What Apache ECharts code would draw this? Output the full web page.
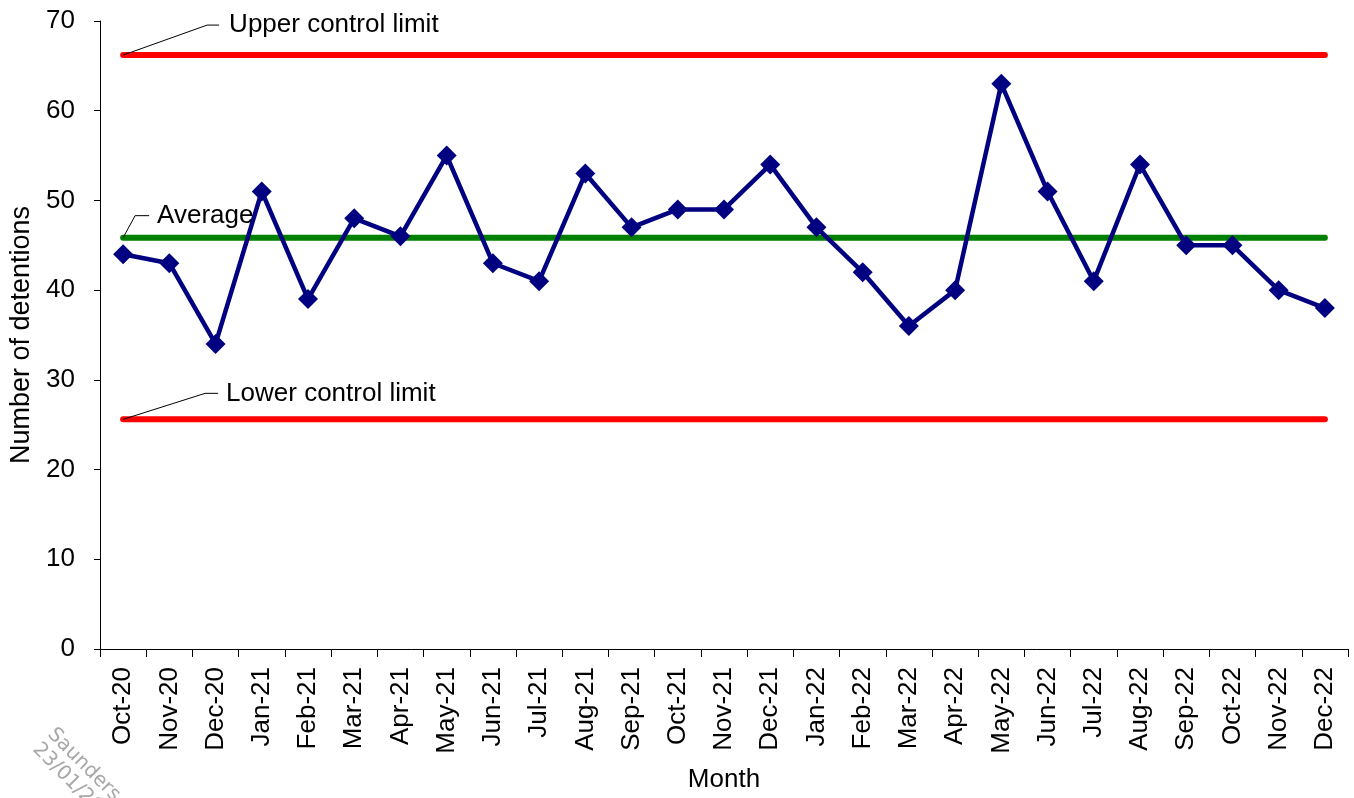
<!DOCTYPE html>
<html>
<head>
<meta charset="utf-8">
<script src="https://cdn.jsdelivr.net/npm/echarts@6/dist/echarts.min.js"></script>
<style>
html,body{margin:0;padding:0;background:#fff;}
#chart{width:1354px;height:798px;}
</style>
</head>
<body>
<div id="chart"></div>
<script>
const months = ['Oct-20','Nov-20','Dec-20','Jan-21','Feb-21','Mar-21','Apr-21','May-21','Jun-21','Jul-21','Aug-21','Sep-21','Oct-21','Nov-21','Dec-21','Jan-22','Feb-22','Mar-22','Apr-22','May-22','Jun-22','Jul-22','Aug-22','Sep-22','Oct-22','Nov-22','Dec-22'];
const detentions = [44,43,34,51,39,48,46,55,43,41,53,47,49,49,54,47,42,36,40,63,51,41,54,45,45,40,38];
const upperLimit = 66.2;
const average = 45.85;
const lowerLimit = 25.6;
const yTicks = [0,10,20,30,40,50,60,70];

const FONT = 'Liberation Sans, Arial, sans-serif';
const chart = echarts.init(document.getElementById('chart'), null, {renderer:'canvas'});

function limitData(v){ return [[months[0], v],[months[months.length-1], v]]; }

const option = {
  animation:false,
  backgroundColor:'#fff',
  grid:{left:97, top:21, right:6, bottom:148, containLabel:false},
  xAxis:{
    type:'category', data:months, boundaryGap:true,
    name:'Month', nameLocation:'middle', nameGap:118,
    nameTextStyle:{fontFamily:FONT, fontSize:26, color:'#000'},
    axisLine:{lineStyle:{color:'#000', width:1}},
    axisTick:{show:true, inside:false, length:8, interval:0, lineStyle:{color:'#000'}},
    axisLabel:{interval:0, rotate:90, margin:18, fontFamily:FONT, fontSize:26, color:'#000'},
    splitLine:{show:false}
  },
  yAxis:{
    type:'value', min:yTicks[0], max:yTicks[yTicks.length-1], interval:10,
    name:'Number of detentions', nameLocation:'middle', nameGap:65,
    nameTextStyle:{fontFamily:FONT, fontSize:27, color:'#000'},
    axisLine:{show:true, lineStyle:{color:'#000', width:1}},
    axisTick:{show:true, length:6, lineStyle:{color:'#000'}},
    axisLabel:{margin:25, fontFamily:FONT, fontSize:26, color:'#000'},
    splitLine:{show:false}
  },
  series:[
    {name:'Upper control limit', type:'line', data:limitData(upperLimit), symbol:'none', z:1,
      lineStyle:{color:'#ff0000', width:6, cap:'round'}},
    {name:'Lower control limit', type:'line', data:limitData(lowerLimit), symbol:'none', z:1,
      lineStyle:{color:'#ff0000', width:6, cap:'round'}},
    {name:'Average', type:'line', data:limitData(average), symbol:'none', z:1,
      lineStyle:{color:'#008000', width:6, cap:'round'}},
    {name:'Detentions', type:'line', data:detentions, z:3,
      symbol:'diamond', symbolSize:20, showAllSymbol:true,
      itemStyle:{color:'#000080'},
      lineStyle:{color:'#000080', width:4.5, join:'round'}}
  ]
};
chart.setOption(option);

function annot(value, dx1, dy1, dx2, text, textDx){
  const p = chart.convertToPixel({gridIndex:0}, [months[0], value]);
  return [
    {type:'polyline', silent:true, z:10,
      shape:{points:[[p[0],p[1]],[p[0]+dx1,p[1]+dy1],[p[0]+dx2,p[1]+dy1]]},
      style:{stroke:'#000', lineWidth:1, fill:null}},
    {type:'text', silent:true, z:10, x:p[0]+textDx, y:p[1]+dy1,
      style:{text:text, font:'26px '+FONT, fill:'#000', textAlign:'left', textVerticalAlign:'middle'}}
  ];
}
const g = [].concat(
  annot(upperLimit, 84, -30, 96, 'Upper control limit', 106),
  annot(average, 12, -22, 26, 'Average', 34),
  annot(lowerLimit, 82, -26, 95, 'Lower control limit', 103),
  [{type:'text', silent:true, z:10, x:58, y:724, rotation:-Math.PI/4,
    style:{text:'Saunders\n23/01/2023', font:'20px DejaVu Sans, sans-serif', fill:'#a8a8a8', textAlign:'left', textVerticalAlign:'top', lineHeight:21}}]
);
chart.setOption({graphic:g});
</script>
</body>
</html>
